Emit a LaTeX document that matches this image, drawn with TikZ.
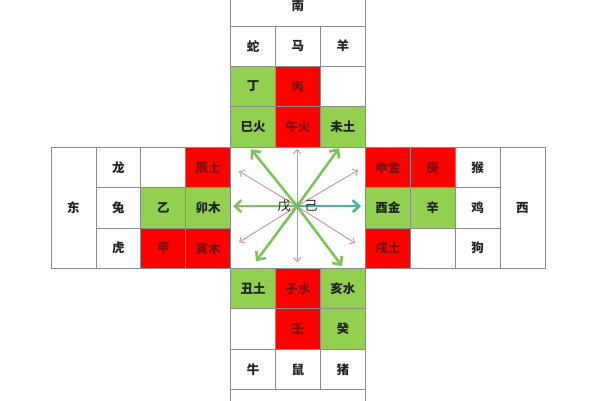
\documentclass[tikz,border=0pt]{standalone}
\usepackage{fontspec}
\setmainfont{Noto Sans CJK SC}
\usetikzlibrary{arrows.meta}
\definecolor{cred}{RGB}{255,0,0}
\definecolor{cgreen}{RGB}{146,208,80}
\definecolor{gridc}{RGB}{140,140,140}
\definecolor{redtxt}{RGB}{125,15,15}
\definecolor{txt}{RGB}{35,35,35}
\definecolor{arrgreen}{RGB}{125,196,90}
\definecolor{arrteal}{RGB}{72,180,168}
\definecolor{arrpink}{RGB}{214,140,156}
\begin{document}
\begin{tikzpicture}[x=44.9pt,y=-40.4pt,
  cell/.style={draw=gridc, line width=0.8pt, minimum width=44.9pt, minimum height=40.4pt,
    inner sep=0pt, text=txt, font=\fontsize{12.5}{14}\selectfont\bfseries},
  wcell/.style={cell, fill=white},
  rcell/.style={cell, fill=cred, text=redtxt},
  gcell/.style={cell, fill=cgreen},
  garrow/.style={draw=arrgreen, line width=2.6pt, -{Straight Barb[length=6.5pt,width=12pt]}},
  tarrow/.style={draw=arrteal, line width=2.6pt, -{Straight Barb[length=6.5pt,width=12pt]}},
  parrow/.style={draw=arrpink, line width=0.9pt, -{Straight Barb[length=4pt,width=7.5pt]}},
  ctext/.style={text=txt, font=\fontsize{13}{15}\selectfont, inner sep=0pt}]
\clip (0,0) rectangle (13.363,9.901);
\fill[white] (0,0) rectangle (13.363,9.901);
\begin{scope}[shift={(1.636,0.1436)}]
  % top arm
  \node[wcell, minimum width=134.7pt] (nan) at (5,0) {南};
  \node[wcell] (she) at (4,1) {蛇};
  \node[wcell] (ma) at (5,1) {马};
  \node[wcell] (yang) at (6,1) {羊};
  \node[gcell] (ding) at (4,2) {丁};
  \node[rcell] (bing) at (5,2) {丙};
  \node[wcell] (t23) at (6,2) {};
  \node[gcell] (sihuo) at (4,3) {巳火};
  \node[rcell] (wuhuo) at (5,3) {午火};
  \node[gcell] (weitu) at (6,3) {未土};
  % left arm
  \node[wcell, minimum height=121.2pt] (dong) at (0,5) {东};
  \node[wcell] (long) at (1,4) {龙};
  \node[wcell] (tu) at (1,5) {兔};
  \node[wcell] (hu) at (1,6) {虎};
  \node[wcell] (l24) at (2,4) {};
  \node[gcell] (yi) at (2,5) {乙};
  \node[rcell] (jia) at (2,6) {甲};
  \node[rcell] (chentu) at (3,4) {辰土};
  \node[gcell] (maomu) at (3,5) {卯木};
  \node[rcell] (yinmu) at (3,6) {寅木};
  % right arm
  \node[rcell] (shenjin) at (7,4) {申金};
  \node[gcell] (youjin) at (7,5) {酉金};
  \node[rcell] (xutu) at (7,6) {戌土};
  \node[rcell] (geng) at (8,4) {庚};
  \node[gcell] (xin) at (8,5) {辛};
  \node[wcell] (r86) at (8,6) {};
  \node[wcell] (hou) at (9,4) {猴};
  \node[wcell] (ji2) at (9,5) {鸡};
  \node[wcell] (gou) at (9,6) {狗};
  \node[wcell, minimum height=121.2pt] (xi) at (10,5) {西};
  % bottom arm
  \node[gcell] (choutu) at (4,7) {丑土};
  \node[rcell] (zishui) at (5,7) {子水};
  \node[gcell] (haishui) at (6,7) {亥水};
  \node[wcell] (b48) at (4,8) {};
  \node[rcell] (ren) at (5,8) {壬};
  \node[gcell] (gui) at (6,8) {癸};
  \node[wcell] (niu) at (4,9) {牛};
  \node[wcell] (shu) at (5,9) {鼠};
  \node[wcell] (zhu) at (6,9) {猪};
  \node[wcell, minimum width=134.7pt] (bei) at (5,10) {};
  % centre
  \node[draw=gridc, line width=0.8pt, fill=white, minimum width=134.7pt,
        minimum height=121.2pt, inner sep=0pt] (ctr) at (5,5) {};
  \coordinate (o) at (4.98,4.96);
  % arrow tips
  \coordinate (pU)  at ([shift={(0pt,57pt)}]o);
  \coordinate (pD)  at ([shift={(0pt,-56pt)}]o);
  \coordinate (pUL) at ([shift={(-58pt,35pt)}]o);
  \coordinate (pUR) at ([shift={(61pt,36pt)}]o);
  \coordinate (pDL) at ([shift={(-58pt,-36pt)}]o);
  \coordinate (pDR) at ([shift={(58pt,-37pt)}]o);
  \coordinate (gUL) at ([shift={(-46pt,57pt)}]o);
  \coordinate (gUR) at ([shift={(42pt,58pt)}]o);
  \coordinate (gDL) at ([shift={(-41pt,-55pt)}]o);
  \coordinate (gDR) at ([shift={(45pt,-60pt)}]o);
  \coordinate (gL)  at ([shift={(-64pt,0pt)}]o);
  \coordinate (tR)  at ([shift={(64pt,0pt)}]o);
  \draw[parrow] (o) -- (pU);
  \draw[parrow] (o) -- (pD);
  \draw[parrow] (o) -- (pUL);
  \draw[parrow] (o) -- (pUR);
  \draw[parrow] (o) -- (pDL);
  \draw[parrow] (o) -- (pDR);
  \draw[garrow] (o) -- (gUL);
  \draw[garrow] (o) -- (gUR);
  \draw[garrow] (o) -- (gDL);
  \draw[garrow] (o) -- (gDR);
  \draw[garrow] (o) -- (gL);
  \draw[tarrow] (o) -- (tR);
  \node[ctext] (wu) at ([shift={(-13pt,0pt)}]o) {戊};
  \node[ctext] (jiC) at ([shift={(14pt,0pt)}]o) {己};
\end{scope}
\end{tikzpicture}
\end{document}
